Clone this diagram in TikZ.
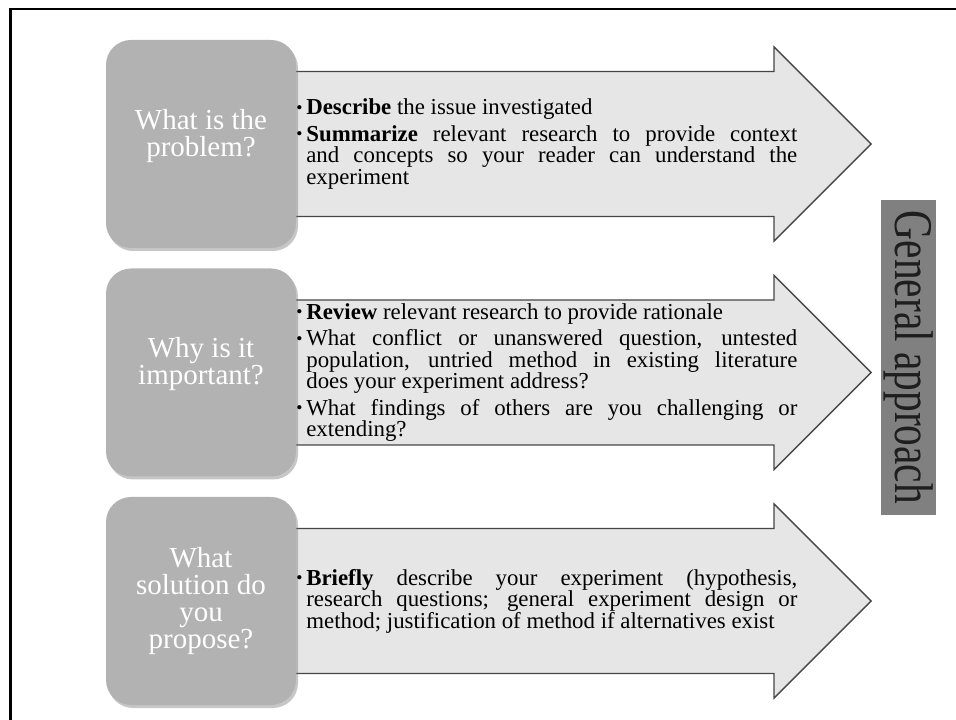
\documentclass[tikz,border=0pt]{standalone}
\usepackage{fontspec}
\setmainfont{Liberation Serif}
\usepackage{xcolor}
\usepackage{tikz}
\usetikzlibrary{shadows}

\definecolor{boxgray}{RGB}{178,178,178}
\definecolor{arrowfill}{RGB}{230,230,230}
\definecolor{arrowline}{RGB}{70,70,70}
\definecolor{tabgray}{RGB}{128,128,128}
\definecolor{tabtext}{RGB}{30,30,30}
\newcommand{\tightlines}{\lineskiplimit -20pt\relax}
\newcommand{\bul}[1]{\hangindent=0.2cm\hangafter=1\noindent\makebox[0.2cm][l]{\raisebox{0.8pt}{\fontsize{10}{10}\selectfont\textbullet}}#1\par}

\begin{document}
\begin{tikzpicture}[
qbox/.style={rectangle,rounded corners=0.5cm,fill=boxgray,minimum width=3.8cm,minimum height=4.16cm,text=white,align=center,font=\fontsize{16.5}{15.2}\selectfont\tightlines,drop shadow={shadow xshift=0.04cm,shadow yshift=-0.06cm,opacity=0.45}},
pointlist/.style={anchor=west,inner sep=0pt,text width=10.02cm,align=justify,font=\fontsize{13}{12.2}\selectfont\tightlines},
bigarrow/.style={fill=arrowfill,draw=arrowline,line width=0.8pt},
tab/.style={fill=tabgray,text=tabtext,minimum width=6.3cm,minimum height=1.1cm,inner sep=0pt,font=\fontsize{31}{31}\selectfont}]
\useasboundingbox (0,0) rectangle (19.12,14.38);
\draw[line width=1.2pt](0.21,-0.2)--(0.21,14.2)--(19.4,14.2);
% arrows
\foreach \y in {11.5,6.93,2.36}
\draw[bigarrow](5.6,\y+1.45)--(15.48,\y+1.45)--(15.48,\y+1.94)--(17.42,\y)
--(15.48,\y-1.94)--(15.48,\y-1.45)--(5.6,\y-1.45)--cycle;
% question boxes
\node[qbox,text depth=0.45cm](q1) at (4.02,11.5){What is the\\problem?};
\node[qbox,text depth=0.45cm](q2) at (4.02,6.93){Why is it\\important?};
\node[qbox](q3) at (4.02,2.36){What\\solution do\\you\\propose?};
% points
\node[pointlist](p1) at (5.92,11.5){\bul{\textbf{Describe} the issue investigated}\smallskip
\bul{\textbf{Summarize} relevant research to provide context\linebreak and concepts so your reader can understand the\linebreak experiment}};
\node[pointlist](p2) at (5.92,6.93){\bul{\textbf{Review} relevant research to provide rationale}\smallskip
\bul{What conflict or unanswered question, untested\linebreak population, untried method in existing literature\linebreak does your experiment address?}\smallskip
\bul{What findings of others are you challenging or\linebreak extending?}};
\node[pointlist](p3) at (5.92,2.36){\bul{\textbf{Briefly} describe your experiment (hypothesis,\linebreak research questions; general experiment design or\linebreak method; justification of method if alternatives exist}};
% side tab
\node[tab,rotate=-90](gen) at (18.17,7.23){\scalebox{0.76}[1]{General approach}};
\end{tikzpicture}
\end{document}
